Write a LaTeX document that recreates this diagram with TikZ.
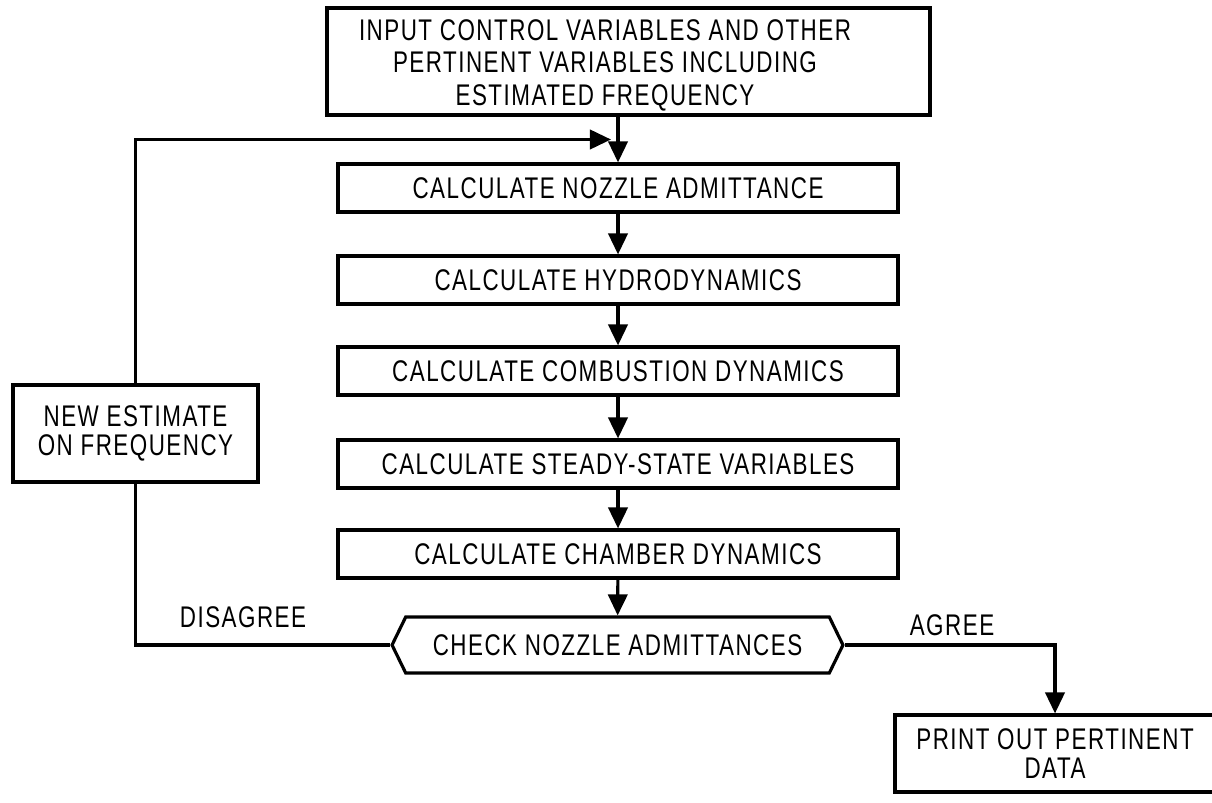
\documentclass[tikz,border=0pt]{standalone}
\usepackage{fontspec}
\setmainfont{Liberation Sans}[FakeStretch=0.75,LetterSpace=5]
\usetikzlibrary{arrows.meta,shapes.symbols,calc}

\begin{document}
\begin{tikzpicture}[x=0.02cm,y=-0.02cm,line width=1.8pt,
    font=\fontsize{17}{18.5}\selectfont,
    box/.style={draw,rectangle,minimum width=11.2cm,minimum height=0.96cm,inner sep=0pt},
    flow/.style={-{Triangle[width=11pt,length=12pt]}},
    lbl/.style={align=center,inner sep=0pt}]
  \useasboundingbox (0,0) rectangle (1212,803);
  \clip (0,0) rectangle (1212,803);
  \node[box,minimum width=12.06cm,minimum height=2.14cm] (input) at (628.5,61.5) {};
  \node[lbl] (inputtext) at (605,65) {INPUT CONTROL VARIABLES AND OTHER\\PERTINENT VARIABLES INCLUDING\\ESTIMATED FREQUENCY};
  \node[box] (nozzle) at (618,188) {CALCULATE NOZZLE ADMITTANCE};
  \node[box] (hydro) at (618,280) {CALCULATE HYDRODYNAMICS};
  \node[box] (combust) at (618,371) {CALCULATE COMBUSTION DYNAMICS};
  \node[box] (steady) at (618,464) {CALCULATE STEADY-STATE VARIABLES};
  \node[box] (chamber) at (618,554) {CALCULATE CHAMBER DYNAMICS};
  \node[draw,signal,signal to=west and east,signal pointer angle=128,
    minimum width=9.02cm,minimum height=1.12cm,inner sep=0pt] (check) at (617.5,645) {CHECK NOZZLE ADMITTANCES};
  \node[draw,minimum width=4.9cm,minimum height=1.94cm,align=center,inner sep=0pt,
    font=\fontsize{17}{16.5}\selectfont] (newest) at (135.5,433.5) {NEW ESTIMATE\\ON FREQUENCY};
  \node[draw,minimum width=6.4cm,minimum height=1.54cm,align=center,inner sep=0pt,
    font=\fontsize{17}{17}\selectfont] (print) at (1055,753.5) {PRINT OUT PERTINENT\\DATA};
  \node[lbl] (disagree) at (243,617) {DISAGREE};
  \node[lbl] (agree) at (952,625) {AGREE};
  \coordinate (join) at ($(nozzle.north |- input.south)!0.5!(nozzle.north)$);
  \draw[flow] (nozzle.north |- input.south) -- (nozzle.north);
  \draw[flow] (nozzle) -- (hydro);
  \draw[flow] (hydro) -- (combust);
  \draw[flow] (combust) -- (steady);
  \draw[flow] (steady) -- (chamber);
  \draw[flow] (chamber) -- (check);
  \draw (check.west) -| (newest.south);
  \draw[flow,shorten >=4pt] (newest.north) |- (join);
  \draw[flow] (check.east) -| (print.north);
\end{tikzpicture}
\end{document}
